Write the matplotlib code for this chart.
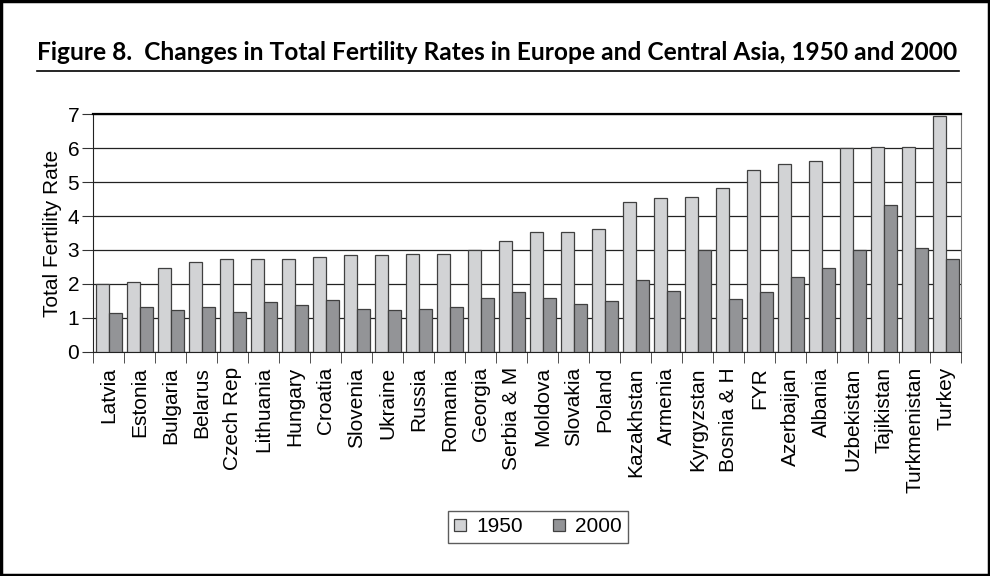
import matplotlib.pyplot as plt
import numpy as np
from matplotlib.patches import Rectangle
from matplotlib.lines import Line2D

plt.rcParams['font.family'] = ['Liberation Sans', 'DejaVu Sans']

countries = ['Latvia', 'Estonia', 'Bulgaria', 'Belarus', 'Czech Rep', 'Lithuania',
             'Hungary', 'Croatia', 'Slovenia', 'Ukraine', 'Russia', 'Romania',
             'Georgia', 'Serbia & M', 'Moldova', 'Slovakia', 'Poland', 'Kazakhstan',
             'Armenia', 'Kyrgyzstan', 'Bosnia & H', 'FYR', 'Azerbaijan', 'Albania',
             'Uzbekistan', 'Tajikistan', 'Turkmenistan', 'Turkey']
tfr_1950 = [2.01, 2.06, 2.47, 2.64, 2.74, 2.74, 2.74, 2.80, 2.84, 2.84, 2.89, 2.89,
            3.00, 3.27, 3.52, 3.52, 3.62, 4.42, 4.53, 4.57, 4.83, 5.35, 5.52, 5.62,
            5.99, 6.04, 6.04, 6.93]
tfr_2000 = [1.16, 1.33, 1.22, 1.33, 1.18, 1.48, 1.38, 1.54, 1.27, 1.22, 1.27, 1.33,
            1.59, 1.75, 1.59, 1.42, 1.50, 2.11, 1.80, 3.00, 1.55, 1.75, 2.21, 2.47,
            3.00, 4.31, 3.06, 2.73]

fig = plt.figure(figsize=(9.9, 5.76), dpi=100)
ax = fig.add_axes([0.094, 0.389, 0.877, 0.413])

x = np.arange(len(countries))
w = 0.42
ax.bar(x - w / 2, tfr_1950, w, color='#d2d3d5', edgecolor='#404040', linewidth=0.9,
       label='1950', zorder=3)
ax.bar(x + w / 2, tfr_2000, w, color='#939497', edgecolor='#404040', linewidth=0.9,
       label='2000', zorder=3)

ax.set_xlim(-0.5, len(countries) - 0.5)
ax.set_ylim(0, 7)
ax.set_yticks(range(8))
ax.yaxis.grid(True, color='#222222', linewidth=0.9, zorder=0)
ax.tick_params(axis='y', labelsize=15, length=8, pad=2, color='#333333')

# labels at centres, tick marks between the groups
ax.set_xticks(x)
ax.set_xticklabels(countries, rotation=90, fontsize=15)
ax.tick_params(axis='x', which='major', length=0, pad=11)
ax.set_xticks(np.arange(-0.5, len(countries)), minor=True)
ax.tick_params(axis='x', which='minor', length=8, color='#333333')

ax.set_ylabel('Total Fertility Rate', fontsize=15, labelpad=4)
for s in ['left', 'bottom']:
    ax.spines[s].set_color('#222222')
ax.spines['top'].set_linewidth(1.6)
ax.spines['right'].set_color('#777777')

ax.legend(loc='center', bbox_to_anchor=(538 / 990, 1 - 527 / 576), bbox_transform=fig.transFigure,
          ncol=2, fontsize=15, frameon=True, fancybox=False, edgecolor='#333333',
          handlelength=0.55, handleheight=0.55, columnspacing=1.45, handletextpad=0.5,
          borderpad=0.3, borderaxespad=0)

title = fig.text(37 / 990, 1 - 52 / 576,
                 'Figure 8.  Changes in Total Fertility Rates in Europe and Central Asia, 1950 and 2000',
                 fontsize=18, fontweight='bold', family=['Lato', 'DejaVu Sans'],
                 va='center', ha='left')
# shrink the title until it fits the rule below it
r = fig.canvas.get_renderer()
tw = title.get_window_extent(renderer=r).width
title.set_fontsize(18 * 921 / tw)

fig.add_artist(Line2D([37 / 990, 959 / 990], [1 - 71 / 576, 1 - 71 / 576], color='black',
                      linewidth=1.2, transform=fig.transFigure))
fig.add_artist(Rectangle((0.0015, 0.0025), 0.997, 0.995, fill=False, edgecolor='black',
                         linewidth=2.5, transform=fig.transFigure))

plt.savefig('out.png', dpi=100)
